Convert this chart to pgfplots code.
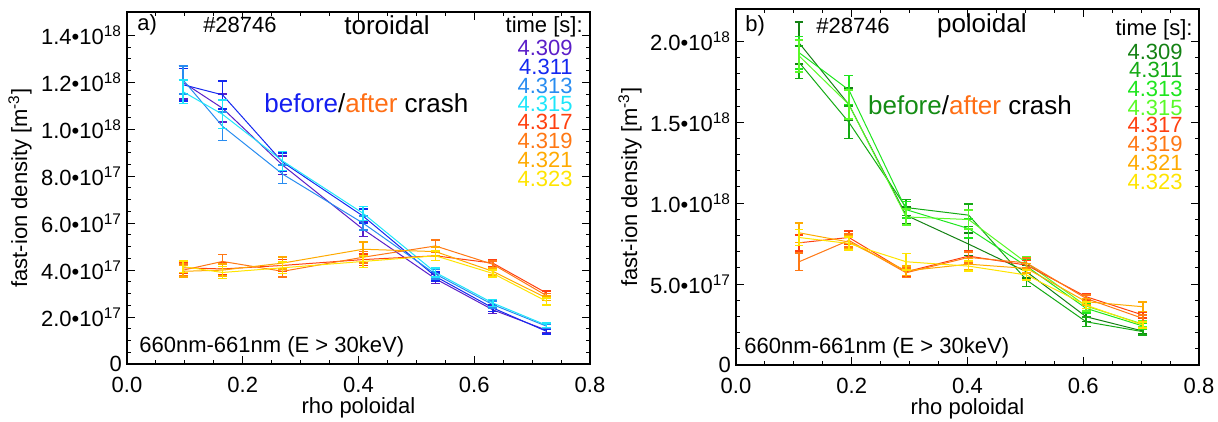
\documentclass[border=0pt]{standalone}
\usepackage{pgfplots}
\pgfplotsset{compat=1.18}
\usepackage{fontspec}
\setmainfont{Liberation Sans}
\definecolor{tA}{RGB}{90,30,200}
\definecolor{tB}{RGB}{20,40,240}
\definecolor{tC}{RGB}{40,140,240}
\definecolor{tD}{RGB}{30,230,250}
\definecolor{aA}{RGB}{255,64,16}
\definecolor{aB}{RGB}{255,120,20}
\definecolor{aC}{RGB}{255,170,0}
\definecolor{aD}{RGB}{255,228,0}
\definecolor{pA}{RGB}{20,130,20}
\definecolor{pB}{RGB}{20,170,20}
\definecolor{pC}{RGB}{30,230,30}
\definecolor{pD}{RGB}{90,250,40}
\definecolor{befL}{RGB}{20,30,240}
\definecolor{aft}{RGB}{255,110,20}
\definecolor{befR}{RGB}{20,140,20}
\newcommand\tl[2]{#1•10\textsuperscript{#2}}
\newcommand\bigf{\fontsize{13}{15}\selectfont}
\tikzset{lg/.style={anchor=east, inner sep=0pt, text height=7.6pt, text depth=0pt}, lw/.style={anchor=west, inner sep=0pt}}
\pgfplotsset{fis/.style={
  scale only axis, width=231.5pt, anchor=south west,
  xmin=0, xmax=0.8, ymin=0,
  xtick={0,0.2,0.4,0.6,0.8}, xticklabels={0.0,0.2,0.4,0.6,0.8},
  minor x tick num=3,
  major tick length=4pt, minor tick length=2pt,
  tick style={black, line width=0.5pt},
  axis line style={line width=0.6pt},
  font=\fontsize{11}{13}\selectfont,
  xticklabel style={yshift=-3pt},
  yticklabel style={xshift=1pt},
  xlabel={rho poloidal},
  xlabel style={at={(axis description cs:0.5,-0.093)}, anchor=north, inner sep=0pt},
  ylabel={fast-ion density [m\textsuperscript{-3}]},
  every axis plot/.append style={line width=0.5pt, mark=none,
    error bars/y dir=both, error bars/y explicit,
    error bars/error bar style={line width=0.8pt},
    error bars/error mark options={rotate=90, mark size=2.2pt, line width=0.8pt}},
}}
\begin{document}
\begin{tikzpicture}
\path[use as bounding box] (0,0) rectangle (609pt,211pt);
% ---------------- left panel: toroidal ----------------
\begin{axis}[fis, at={(63.5pt,29pt)}, height=176pt, ymax=15,
  ytick={0,2,4,6,8,10,12,14},
  yticklabels={0,\tl{2.0}{17},\tl{4.0}{17},\tl{6.0}{17},\tl{8.0}{17},\tl{1.0}{18},\tl{1.2}{18},\tl{1.4}{18}},
  minor y tick num=3,
  ylabel style={at={(axis description cs:-0.231,0.5)}, anchor=center}]
\addplot[tA] coordinates {(0.097,12.0)+-(0,0.7) (0.165,10.9)+-(0,0.6) (0.269,8.47)+-(0,0.4) (0.408,5.74)+-(0,0.3) (0.533,3.63)+-(0,0.2) (0.632,2.31)+-(0,0.15) (0.725,1.44)+-(0,0.1)};
\addplot[tB] coordinates {(0.097,11.9)+-(0,0.7) (0.165,11.47)+-(0,0.6) (0.269,8.6)+-(0,0.4) (0.408,6.3)+-(0,0.3) (0.533,3.73)+-(0,0.2) (0.632,2.39)+-(0,0.15) (0.725,1.39)+-(0,0.1)};
\addplot[tC] coordinates {(0.097,12.1)+-(0,0.6) (0.165,10.13)+-(0,0.6) (0.269,8.09)+-(0,0.4) (0.408,6.0)+-(0,0.3) (0.533,3.83)+-(0,0.2) (0.632,2.53)+-(0,0.15) (0.725,1.61)+-(0,0.1)};
\addplot[tD] coordinates {(0.097,11.6)+-(0,0.5) (0.165,10.64)+-(0,0.6) (0.269,8.65)+-(0,0.4) (0.408,6.42)+-(0,0.3) (0.533,3.9)+-(0,0.2) (0.632,2.6)+-(0,0.15) (0.725,1.65)+-(0,0.1)};
\addplot[aA] coordinates {(0.097,4.1)+-(0,0.25) (0.165,4.05)+-(0,0.25) (0.269,4.2)+-(0,0.25) (0.408,4.45)+-(0,0.25) (0.533,4.61)+-(0,0.2) (0.632,4.3)+-(0,0.15) (0.725,3.02)+-(0,0.1)};
\addplot[aB] coordinates {(0.097,4.0)+-(0,0.25) (0.165,4.37)+-(0,0.3) (0.269,3.95)+-(0,0.25) (0.408,4.55)+-(0,0.25) (0.533,5.03)+-(0,0.25) (0.632,4.25)+-(0,0.15) (0.725,2.91)+-(0,0.1)};
\addplot[aC] coordinates {(0.097,3.95)+-(0,0.25) (0.165,4.0)+-(0,0.25) (0.269,4.3)+-(0,0.25) (0.408,4.89)+-(0,0.3) (0.533,4.79)+-(0,0.2) (0.632,3.95)+-(0,0.15) (0.725,2.81)+-(0,0.1)};
\addplot[aD] coordinates {(0.097,4.15)+-(0,0.25) (0.165,3.9)+-(0,0.25) (0.269,4.1)+-(0,0.25) (0.408,4.37)+-(0,0.25) (0.533,4.61)+-(0,0.2) (0.632,3.86)+-(0,0.15) (0.725,2.67)+-(0,0.15)};
\node[lw] at (rel axis cs:0.0216,0.963) {a)};
\node at (rel axis cs:0.244,0.963) {\#28746};
\node at (rel axis cs:0.5616,0.963) {\bigf toroidal};
\node[lg] at (rel axis cs:0.985,0.963) {time [s]:};
\node[lg,text=tA] at (rel axis cs:0.9633,0.8977) {4.309};
\node[lg,text=tB] at (rel axis cs:0.9633,0.8438) {4.311};
\node[lg,text=tC] at (rel axis cs:0.9633,0.7898) {4.313};
\node[lg,text=tD] at (rel axis cs:0.9633,0.7386) {4.315};
\node[lg,text=aA] at (rel axis cs:0.9633,0.6875) {4.317};
\node[lg,text=aB] at (rel axis cs:0.9633,0.6335) {4.319};
\node[lg,text=aC] at (rel axis cs:0.9633,0.5795) {4.321};
\node[lg,text=aD] at (rel axis cs:0.9633,0.5256) {4.323};
\node at (rel axis cs:0.517,0.7415) {\bigf\textcolor{befL}{before}/\textcolor{aft}{after} crash};
\node[lw] at (rel axis cs:0.0259,0.048) {660nm-661nm (E > 30keV)};
\end{axis}
% ---------------- right panel: poloidal ----------------
\begin{axis}[fis, at={(368pt,28.5pt)}, height=178pt, ymax=22,
  ytick={0,5,10,15,20},
  yticklabels={0,\tl{5.0}{17},\tl{1.0}{18},\tl{1.5}{18},\tl{2.0}{18}},
  minor y tick num=4,
  ylabel style={at={(axis description cs:-0.229,0.5)}, anchor=center}]
\addplot[pA] coordinates {(0.109,19.9)+-(0,1.3) (0.195,16.1)+-(0,1.0) (0.294,9.25)+-(0,0.5) (0.402,7.47)+-(0,0.7) (0.502,5.76)+-(0,0.4) (0.605,2.98)+-(0,0.3) (0.703,2.10)+-(0,0.2)};
\addplot[pB] coordinates {(0.109,18.7)+-(0,1.0) (0.195,15.0)+-(0,1.0) (0.294,9.73)+-(0,0.5) (0.402,9.26)+-(0,0.7) (0.502,5.25)+-(0,0.4) (0.605,2.67)+-(0,0.3) (0.703,2.06)+-(0,0.2)};
\addplot[pC] coordinates {(0.109,19.3)+-(0,1.0) (0.195,17.0)+-(0,0.9) (0.294,9.6)+-(0,0.5) (0.402,8.43)+-(0,0.6) (0.502,6.1)+-(0,0.4) (0.605,3.5)+-(0,0.3) (0.703,2.41)+-(0,0.2)};
\addplot[pD] coordinates {(0.109,19.1)+-(0,1.0) (0.195,16.1)+-(0,0.9) (0.294,9.15)+-(0,0.5) (0.402,8.99)+-(0,0.6) (0.502,6.31)+-(0,0.4) (0.605,3.64)+-(0,0.3) (0.703,2.53)+-(0,0.2)};
\addplot[aA] coordinates {(0.109,7.55)+-(0,0.5) (0.195,7.88)+-(0,0.4) (0.294,5.76)+-(0,0.3) (0.402,6.73)+-(0,0.35) (0.502,6.17)+-(0,0.3) (0.605,4.22)+-(0,0.2) (0.703,3.09)+-(0,0.2)};
\addplot[aB] coordinates {(0.109,6.38)+-(0,0.55) (0.195,7.7)+-(0,0.4) (0.294,5.70)+-(0,0.3) (0.402,6.65)+-(0,0.35) (0.502,6.31)+-(0,0.3) (0.605,4.11)+-(0,0.2) (0.703,2.88)+-(0,0.2)};
\addplot[aC] coordinates {(0.109,8.17)+-(0,0.6) (0.195,7.6)+-(0,0.4) (0.294,5.82)+-(0,0.3) (0.402,6.23)+-(0,0.35) (0.502,5.97)+-(0,0.3) (0.605,3.91)+-(0,0.2) (0.703,3.6)+-(0,0.3)};
\addplot[aD] coordinates {(0.109,7.88)+-(0,0.5) (0.195,7.51)+-(0,0.4) (0.294,6.38)+-(0,0.5) (0.402,6.11)+-(0,0.3) (0.502,5.56)+-(0,0.3) (0.605,3.7)+-(0,0.2) (0.703,2.47)+-(0,0.2)};
\node[lw] at (rel axis cs:0.0194,0.952) {b)};
\node at (rel axis cs:0.2527,0.952) {\#28746};
\node at (rel axis cs:0.531,0.952) {\bigf poloidal};
\node[lg] at (rel axis cs:0.987,0.9466) {time [s]:};
\node[lg,text=pA] at (rel axis cs:0.9654,0.879) {4.309};
\node[lg,text=pB] at (rel axis cs:0.9654,0.8287) {4.311};
\node[lg,text=pC] at (rel axis cs:0.9654,0.7753) {4.313};
\node[lg,text=pD] at (rel axis cs:0.9654,0.7219) {4.315};
\node[lg,text=aA] at (rel axis cs:0.9654,0.6742) {4.317};
\node[lg,text=aB] at (rel axis cs:0.9654,0.6208) {4.319};
\node[lg,text=aC] at (rel axis cs:0.9654,0.5674) {4.321};
\node[lg,text=aD] at (rel axis cs:0.9654,0.514) {4.323};
\node at (rel axis cs:0.5054,0.7303) {\bigf\textcolor{befR}{before}/\textcolor{aft}{after} crash};
\node[lw] at (rel axis cs:0.0173,0.0478) {660nm-661nm (E > 30keV)};
\end{axis}
\end{tikzpicture}
\end{document}
